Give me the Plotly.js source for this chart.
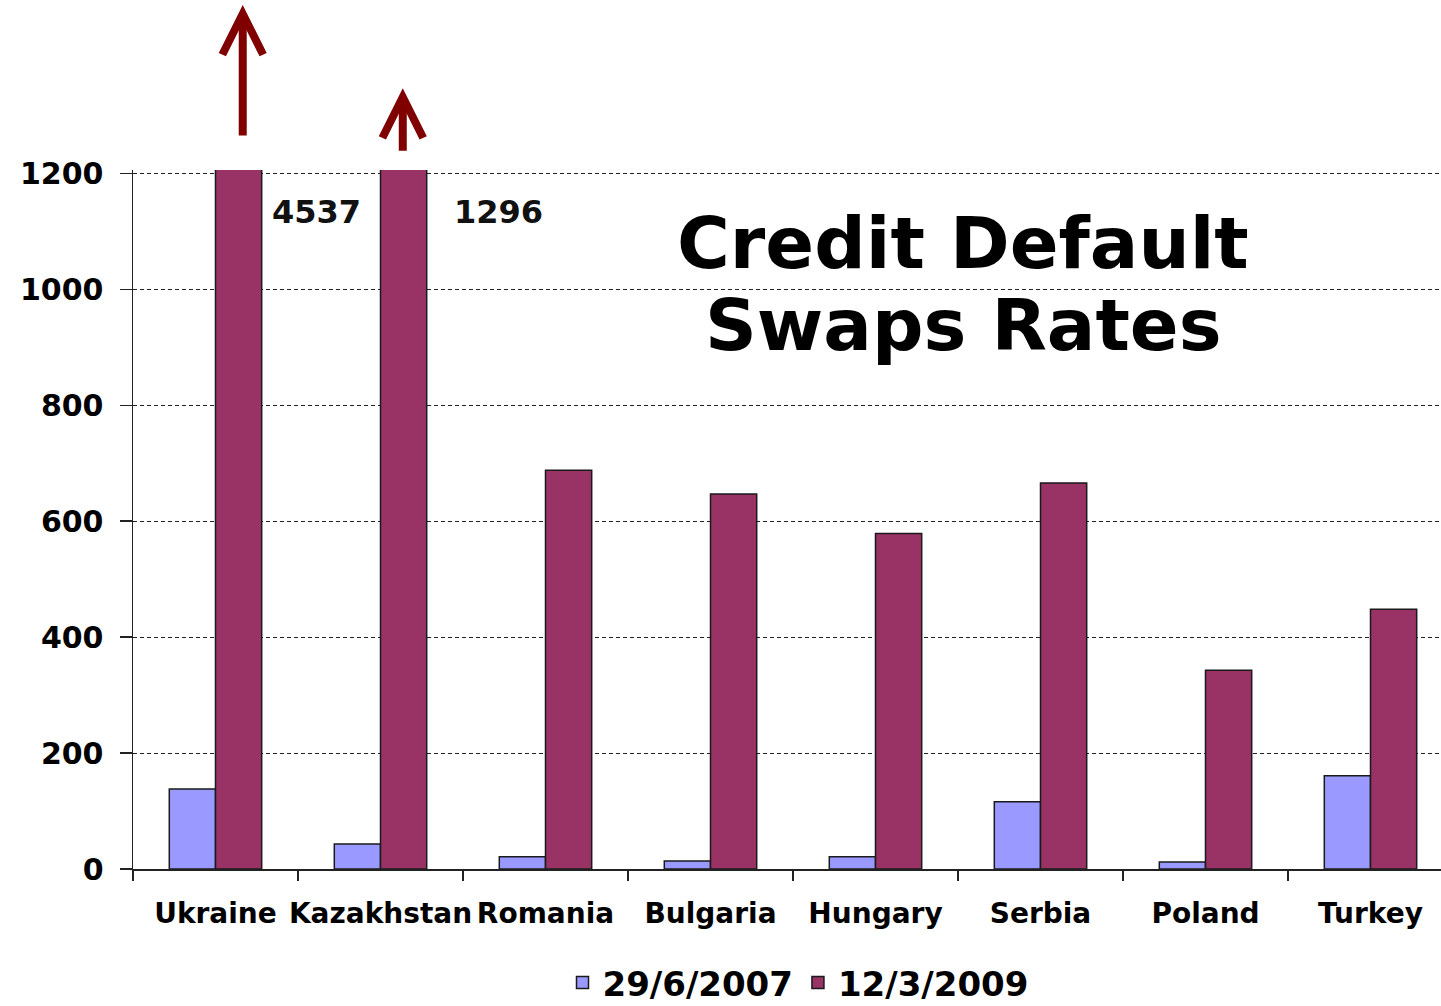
<!DOCTYPE html>
<html>
<head>
<meta charset="utf-8">
<script src="https://cdn.plot.ly/plotly-3.0.1.min.js"></script>
<style>
  html, body { margin: 0; padding: 0; overflow: hidden; background: #fff; }
  #chart { width: 1453px; height: 1006px; }
</style>
</head>
<body>
<div id="chart"></div>
<script>
// Data
const countries = ["Ukraine", "Kazakhstan", "Romania", "Bulgaria", "Hungary", "Serbia", "Poland", "Turkey"];
const series2007Name = "29/6/2007";
const series2009Name = "12/3/2009";
const cds2007 = [138, 43, 21, 14, 21, 116, 12, 161];
const cds2009 = [4537, 1296, 688, 647, 579, 666, 343, 448];
const titleLines = ["Credit Default", "Swaps Rates"];

const FONT = "DejaVu Sans, Verdana, sans-serif";

const traces = [
  {
    type: "bar", name: series2007Name, x: countries, y: cds2007,
    marker: { color: "#9999FF", line: { color: "#1a1a1a", width: 1.5 } },
    hoverinfo: "skip"
  },
  {
    type: "bar", name: series2009Name, x: countries, y: cds2009,
    marker: { color: "#993366", line: { color: "#1a1a1a", width: 1.5 } },
    hoverinfo: "skip"
  }
];

// Off-scale values (those above the axis maximum) get a label and an up arrow
const yMax = 1200;
const labelOffsets = [0.615, 0.715];
const arrowOffsets = [0.165, 0.135];
const arrowTips = [1.236, 1.117];
const arrowLens = [132, 64];
const annotations = [];
let k = 0;
cds2009.forEach((v, i) => {
  if (v > yMax) {
    annotations.push({
      xref: "x", yref: "y", x: i + labelOffsets[k], y: 1133,
      text: String(v), showarrow: false,
      font: { family: FONT, size: 32, weight: "bold", color: "#111" }
    });
    annotations.push({
      xref: "x", yref: "paper", x: i + arrowOffsets[k], y: arrowTips[k],
      ax: 0, ay: arrowLens[k], text: "", showarrow: true,
      arrowhead: 5, arrowwidth: 8, arrowsize: 1, arrowcolor: "#800000", standoff: 0
    });
    k++;
  }
});
annotations.push({
  xref: "paper", yref: "paper", x: (963 - 133) / 1320, y: (869 - 243) / 699,
  xanchor: "center", yanchor: "middle", text: titleLines[0], showarrow: false,
  font: { family: FONT, size: 72, weight: "bold", color: "#000" }
});
annotations.push({
  xref: "paper", yref: "paper", x: (963 - 133) / 1320, y: (869 - 325) / 699,
  xanchor: "center", yanchor: "middle", text: titleLines[1], showarrow: false,
  font: { family: FONT, size: 72, weight: "bold", color: "#000" }
});

const layout = {
  width: 1453, height: 1006,
  margin: { l: 133, r: 0, t: 170, b: 137, autoexpand: false },
  paper_bgcolor: "#fff", plot_bgcolor: "#fff",
  font: { family: FONT, weight: "bold", color: "#000" },
  barmode: "group", bargap: 0.44, bargroupgap: 0,
  showlegend: true,
  legend: {
    orientation: "h", x: (798 - 133) / 1320, xanchor: "center",
    y: -(983 - 869) / 699, yanchor: "middle",
    font: { family: FONT, size: 34, weight: "bold", color: "#000" },
    itemclick: false, itemdoubleclick: false
  },
  xaxis: {
    type: "category", tickangle: 0, automargin: false,
    showline: true, linecolor: "#222", linewidth: 1.5,
    ticks: "outside", tickson: "boundaries", ticklen: 10, tickcolor: "#222", tickwidth: 1.5,
    tickfont: { family: FONT, size: 28, weight: "bold", color: "#000" },
    ticklabelstandoff: 19,
    showgrid: false, fixedrange: true
  },
  yaxis: {
    range: [0, 1206], dtick: 200, tick0: 0, automargin: false,
    showline: true, linecolor: "#222", linewidth: 1.5,
    ticks: "outside", ticklen: 12, tickcolor: "#222", tickwidth: 1.5,
    tickfont: { family: FONT, size: 30, weight: "bold", color: "#000" },
    ticklabelstandoff: 10,
    showgrid: true, gridcolor: "#222", gridwidth: 1, griddash: "4px,3px",
    zeroline: false, fixedrange: true
  },
  annotations: annotations
};

Plotly.newPlot("chart", traces, layout, { displayModeBar: false, staticPlot: true });
</script>
</body>
</html>
